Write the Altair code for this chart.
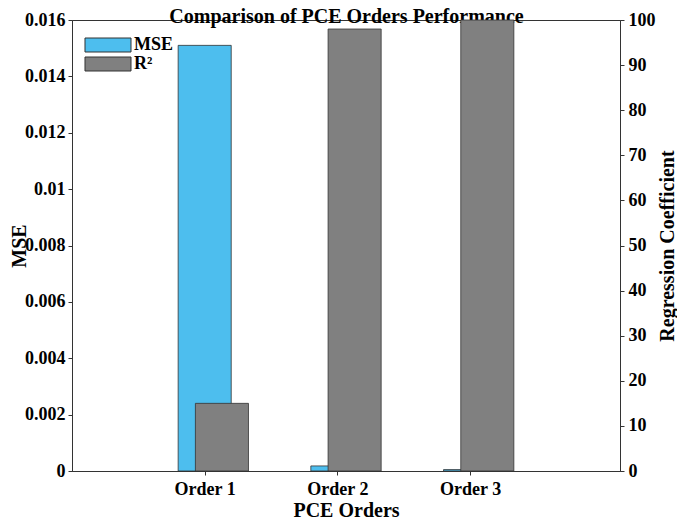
import json
import altair as alt
import pandas as pd

# ---- data ----
orders = ["Order 1", "Order 2", "Order 3"]
positions = [1, 2, 3]
mse = [0.0151, 0.00018, 0.00005]
r2 = [15.0, 98.0, 100.0]
series = ["MSE", "R²"]
colors = ["#4DBEEE", "#808080"]
mse_ticks = [0, 0.002, 0.004, 0.006, 0.008, 0.01, 0.012, 0.014, 0.016]
r2_ticks = [0, 10, 20, 30, 40, 50, 60, 70, 80, 90, 100]
chart_title = "Comparison of PCE Orders Performance"

df = pd.DataFrame({"order": orders, "pos": positions, "MSE": mse, "R2": r2})

FONT = "Liberation Serif"
W, H = 548, 451

xscale = alt.Scale(domain=[0, 4.13], nice=False, zero=False)
xaxis_bottom = alt.Axis(
    orient="bottom",
    values=positions,
    labelExpr=json.dumps(orders) + "[datum.value - 1]",
    title="PCE Orders",
    labelPadding=5,
    titleX=W / 2,
    titleY=39,
    titleBaseline="middle",
    titleAlign="center",
)
# top axis only carries the chart title
xaxis_top = alt.Axis(
    orient="top",
    values=positions,
    labels=False,
    ticks=False,
    domain=False,
    title=chart_title,
    titleFontSize=20,
    titleX=W / 2,
    titleY=2,
    titleAlign="center",
    titleBaseline="alphabetic",
)
color = alt.Color(
    "s:N",
    scale=alt.Scale(domain=series, range=colors),
    legend=alt.Legend(
        title=None,
        orient="none",
        legendX=27,
        legendY=16,
        padding=0,
        symbolType="M-3.286,-1H3.286V1H-3.286Z",
        symbolSize=196,
        symbolStrokeColor="#333333",
        symbolStrokeWidth=1,
        symbolOpacity=1,
        labelFont=FONT,
        labelFontSize=18,
        labelFontWeight="bold",
        labelColor="black",
        labelOffset=17,
        rowPadding=1,
    ),
)

base = alt.Chart(df)

mse_bars = base.transform_calculate(
    x0="datum.pos - 0.2", x1="datum.pos + 0.2", s=f"'{series[0]}'"
).mark_bar(stroke="#333333", strokeWidth=0.8, opacity=1).encode(
    x=alt.X("x0:Q", scale=xscale, axis=xaxis_bottom),
    x2="x1:Q",
    y=alt.Y(
        "MSE:Q",
        scale=alt.Scale(domain=[0, 0.016], nice=False, zero=True),
        axis=alt.Axis(
            orient="left",
            values=mse_ticks,
            format="~g",
            title="MSE",
            labelPadding=3,
            titleX=-53,
            titleY=H / 2,
            titleAngle=270,
            titleAlign="center",
            titleBaseline="middle",
        ),
    ),
    y2=alt.datum(0),
    color=color,
)

r2_bars = base.transform_calculate(
    x0="datum.pos - 0.07", x1="datum.pos + 0.33", s=f"'{series[1]}'"
).mark_bar(stroke="#333333", strokeWidth=0.8, opacity=1).encode(
    x=alt.X("x0:Q", scale=xscale, axis=xaxis_top),
    x2="x1:Q",
    y=alt.Y(
        "R2:Q",
        scale=alt.Scale(domain=[0, 100], nice=False, zero=True),
        axis=alt.Axis(
            orient="right",
            values=r2_ticks,
            title="Regression Coefficient",
            labelPadding=4,
            titleX=47,
            titleY=H / 2,
            titleAngle=270,
            titleAlign="center",
            titleBaseline="middle",
        ),
    ),
    y2=alt.datum(0),
    color=color,
)

chart = alt.layer(mse_bars, r2_bars).resolve_scale(
    y="independent"
).resolve_axis(x="independent").properties(
    width=W,
    height=H,
    autosize=alt.AutoSizeParams(type="none"),
    padding={"left": 64, "top": 12, "right": 57, "bottom": 48},
).configure_axis(
    labelFont=FONT,
    labelFontSize=18,
    labelFontWeight="bold",
    labelColor="black",
    titleFont=FONT,
    titleFontSize=20,
    titleFontWeight="bold",
    titleColor="black",
    domainColor="#333333",
    tickColor="#333333",
    tickSize=4,
    grid=False,
).configure_view(stroke="#333333", strokeWidth=1)

chart.save("out.html", embed_options={"renderer": "svg", "actions": False})
